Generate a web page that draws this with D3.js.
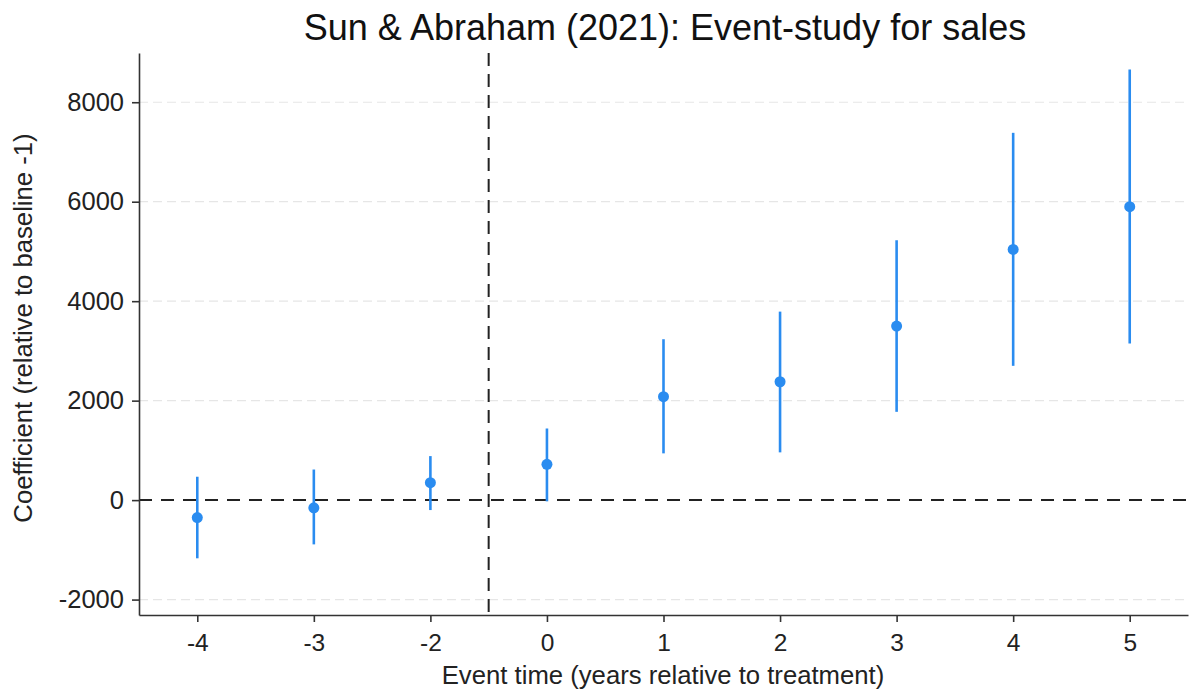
<!DOCTYPE html>
<html>
<head>
<meta charset="utf-8">
<script src="https://cdn.jsdelivr.net/npm/d3@7"></script>
<style>
  html, body { margin: 0; padding: 0; background: #fff; }
  svg { display: block; font-family: "Liberation Sans", Arial, Helvetica, sans-serif; }
</style>
</head>
<body>
<svg id="chart" width="1192" height="693"></svg>
<script>
// Event times (relative to treatment); -1 is the omitted baseline
const eventTimes = ["-4", "-3", "-2", "0", "1", "2", "3", "4", "5"];
// Point estimates and 95% confidence bounds
const coefficients = [-350, -155, 350, 720, 2080, 2380, 3500, 5040, 5900];
const ciLower      = [-1170, -890, -200, -25, 940, 960, 1775, 2700, 3150];
const ciUpper      = [470, 615, 885, 1440, 3235, 3790, 5225, 7385, 8660];
const yTicks = [-2000, 0, 2000, 4000, 6000, 8000];

const svg = d3.select("#chart");
const plot = { left: 139, right: 1188, top: 53, bottom: 615 };

const x = d3.scalePoint()
  .domain(eventTimes)
  .range([plot.left, plot.right])
  .padding(0.5);

const y = d3.scaleLinear()
  .domain([-2310, 8990])
  .range([plot.bottom, plot.top]);

const blue = "#2a8cf0";
const axisColor = "#333";

// Light dashed gridlines
svg.append("g")
  .selectAll("line")
  .data(yTicks.filter(d => d !== 0))
  .join("line")
  .attr("x1", plot.left)
  .attr("x2", plot.right)
  .attr("y1", d => y(d))
  .attr("y2", d => y(d))
  .attr("stroke", "#e6e6e6")
  .attr("stroke-width", 1.2)
  .attr("stroke-dasharray", "9,5");

// Zero reference line
svg.append("line")
  .attr("x1", plot.left)
  .attr("x2", plot.right)
  .attr("y1", y(0))
  .attr("y2", y(0))
  .attr("stroke", "#222")
  .attr("stroke-width", 2)
  .attr("stroke-dasharray", "13,9");

// Treatment onset line, halfway between -2 and 0
const onsetX = (x("-2") + x("0")) / 2;
svg.append("line")
  .attr("x1", onsetX)
  .attr("x2", onsetX)
  .attr("y1", plot.top)
  .attr("y2", plot.bottom)
  .attr("stroke", "#222")
  .attr("stroke-width", 2)
  .attr("stroke-dasharray", "13,8");

// Confidence intervals
const rows = eventTimes.map((t, i) => ({ t, b: coefficients[i], lo: ciLower[i], hi: ciUpper[i] }));
svg.append("g")
  .selectAll("line")
  .data(rows)
  .join("line")
  .attr("x1", d => x(d.t))
  .attr("x2", d => x(d.t))
  .attr("y1", d => y(d.lo))
  .attr("y2", d => y(d.hi))
  .attr("stroke", blue)
  .attr("stroke-width", 2.6);

// Point estimates
svg.append("g")
  .selectAll("circle")
  .data(rows)
  .join("circle")
  .attr("cx", d => x(d.t))
  .attr("cy", d => y(d.b))
  .attr("r", 5.5)
  .attr("fill", blue);

// Axes (plain integers with ASCII hyphen for negatives)
const fmt = d => String(d);
const yAxis = svg.append("g")
  .attr("transform", `translate(${plot.left},0)`)
  .call(d3.axisLeft(y).tickValues(yTicks).tickFormat(fmt).tickSize(7).tickSizeOuter(0).tickPadding(8));
const xAxis = svg.append("g")
  .attr("transform", `translate(0,${plot.bottom})`)
  .call(d3.axisBottom(x).tickSize(7).tickSizeOuter(0).tickPadding(12));

[yAxis, xAxis].forEach(g => {
  g.select(".domain").attr("stroke", axisColor).attr("stroke-width", 1.6);
  g.selectAll(".tick line").attr("stroke", axisColor).attr("stroke-width", 1.6);
  g.selectAll(".tick text")
    .attr("fill", "#222")
    .style("font-family", "'Liberation Sans', Arial, sans-serif");
});
yAxis.selectAll(".tick text").style("font-size", "25.5px");
xAxis.selectAll(".tick text").style("font-size", "24.5px");

// Titles
svg.append("text")
  .attr("x", 665)
  .attr("y", 40)
  .attr("text-anchor", "middle")
  .attr("fill", "#111")
  .style("font-size", "36px")
  .text("Sun & Abraham (2021): Event-study for sales");

svg.append("text")
  .attr("x", 663)
  .attr("y", 684)
  .attr("text-anchor", "middle")
  .attr("fill", "#222")
  .style("font-size", "25.7px")
  .text("Event time (years relative to treatment)");

svg.append("text")
  .attr("transform", "translate(32,328) rotate(-90)")
  .attr("text-anchor", "middle")
  .attr("fill", "#222")
  .style("font-size", "25.7px")
  .text("Coefficient (relative to baseline -1)");
</script>
</body>
</html>
